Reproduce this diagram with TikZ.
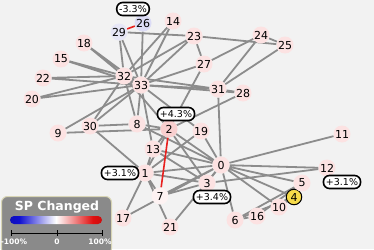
\documentclass[tikz,border=0pt]{standalone}
\usepackage{fontspec}
\setmainfont{DejaVu Sans}
\usepackage{tikz}
\usetikzlibrary{arrows.meta, positioning, calc}
\definecolor{canvas}{HTML}{F2F2F2}
\definecolor{wire}{HTML}{8C8C8C}
\definecolor{hot}{HTML}{E8201E}
\definecolor{pinkish}{HTML}{FCE2E2}
\definecolor{pinkdeep}{HTML}{F8CFCF}
\definecolor{pinkpale}{HTML}{FDF2F2}
\definecolor{lilac}{HTML}{DCDCF6}
\definecolor{lilac2}{HTML}{E6E6F6}
\definecolor{gold}{HTML}{F6DB4A}
\definecolor{legendgray}{HTML}{8A8A8A}
\definecolor{legendrim}{HTML}{D8D5B5}
\definecolor{barlo}{HTML}{00005A}
\definecolor{barmidlo}{HTML}{1010D0}
\definecolor{barmidhi}{HTML}{E01010}
\definecolor{barhi}{HTML}{6E0008}
\pgfdeclarehorizontalshading{spbar}{100bp}{color(0bp)=(barlo); color(30bp)=(barmidlo); color(50bp)=(white); color(70bp)=(barmidhi); color(100bp)=(barhi)}
\pgfdeclarelayer{bg}
\pgfdeclarelayer{edges}
\pgfsetlayers{bg,edges,main}

\begin{document}
\begin{tikzpicture}[
  x=1pt, y=-1pt,
  vert/.style={circle, fill=pinkish, minimum size=17pt, inner sep=0pt,
               font=\fontsize{11}{13}\selectfont},
  vertsel/.style={vert, fill=gold, draw=black, line width=1pt, minimum size=15.5pt},
  pill/.style={rectangle, rounded corners=6pt, draw=black, line width=1.6pt,
               fill=white, minimum height=13pt, inner xsep=2.5pt, inner ysep=1pt,
               font=\fontsize{9.5}{11}\selectfont},
  edge/.style={draw=wire, line width=1.8pt},
  edgehot/.style={draw=hot, line width=1.6pt}
]
  \begin{pgfonlayer}{bg}
    \fill[canvas] (0,0) rectangle (374,249);
  \end{pgfonlayer}
  \useasboundingbox (0,0) rectangle (374,249);

  % vertices
  \node[vert] (v0) at (221,165) {0};
  \node[vert] (v1) at (145,173) {1};
  \node[vert, fill=pinkdeep] (v2) at (169,129) {2};
  \node[vert] (v3) at (207,183) {3};
  \node[vertsel] (v4) at (294,197) {4};
  \node[vert] (v5) at (302,183) {5};
  \node[vert] (v6) at (235,220) {6};
  \node[vert, fill=pinkpale] (v7) at (160,196) {7};
  \node[vert] (v8) at (137,124) {8};
  \node[vert] (v9) at (58,133) {9};
  \node[vert] (v10) at (279,207) {10};
  \node[vert] (v11) at (342,134) {11};
  \node[vert] (v12) at (327,168) {12};
  \node[vert] (v13) at (153,149) {13};
  \node[vert] (v14) at (173,21) {14};
  \node[vert] (v15) at (61,59) {15};
  \node[vert] (v16) at (257,216) {16};
  \node[vert] (v17) at (123,218) {17};
  \node[vert] (v18) at (84,43) {18};
  \node[vert] (v19) at (201,131) {19};
  \node[vert] (v20) at (32,99) {20};
  \node[vert] (v21) at (170,227) {21};
  \node[vert] (v22) at (43,78) {22};
  \node[vert] (v23) at (194,36) {23};
  \node[vert] (v24) at (261,35) {24};
  \node[vert] (v25) at (285,45) {25};
  \node[vert, fill=lilac] (v26) at (143,23) {26};
  \node[vert] (v27) at (204,64) {27};
  \node[vert] (v28) at (243,93) {28};
  \node[vert, fill=lilac2] (v29) at (119,32) {29};
  \node[vert] (v30) at (90,126) {30};
  \node[vert] (v31) at (218,89) {31};
  \node[vert] (v32) at (124,76) {32};
  \node[vert] (v33) at (141,85) {33};

  % change labels
  \node[pill] (l26) at (133,9) {-3.3\%};
  \node[pill] (l2) at (176,114) {+4.3\%};
  \node[pill] (l1) at (120,173) {+3.1\%};
  \node[pill] (l3) at (212,197) {+3.4\%};
  \node[pill] (l12) at (342,182) {+3.1\%};

  % edges
  \begin{pgfonlayer}{edges}
    \draw[edge] (v0) -- (v1) (v0) -- (v2) (v0) -- (v3) (v0) -- (v4) (v0) -- (v5)
      (v0) -- (v6) (v0) -- (v7) (v0) -- (v8) (v0) -- (v10) (v0) -- (v11)
      (v0) -- (v12) (v0) -- (v13) (v0) -- (v17) (v0) -- (v19) (v0) -- (v21)
      (v0) -- (v31);
    \draw[edge] (v1) -- (v2) (v1) -- (v3) (v1) -- (v7) (v1) -- (v13) (v1) -- (v17)
      (v1) -- (v19) (v1) -- (v21) (v1) -- (v30);
    \draw[edge] (v2) -- (v3) (v2) -- (v8) (v2) -- (v9) (v2) -- (v13)
      (v2) -- (v27) (v2) -- (v28) (v2) -- (v32);
    \draw[edge] (v3) -- (v7) (v3) -- (v12) (v3) -- (v13);
    \draw[edge] (v4) -- (v6) (v4) -- (v10);
    \draw[edge] (v5) -- (v6) (v5) -- (v10) (v5) -- (v16) (v6) -- (v16);
    \draw[edge] (v8) -- (v30) (v8) -- (v32) (v8) -- (v33);
    \draw[edge] (v9) -- (v33) (v13) -- (v33);
    \draw[edge] (v14) -- (v32) (v14) -- (v33) (v15) -- (v32) (v15) -- (v33);
    \draw[edge] (v18) -- (v32) (v18) -- (v33) (v19) -- (v33);
    \draw[edge] (v20) -- (v32) (v20) -- (v33) (v22) -- (v32) (v22) -- (v33);
    \draw[edge] (v23) -- (v25) (v23) -- (v27) (v23) -- (v29) (v23) -- (v32)
      (v23) -- (v33);
    \draw[edge] (v24) -- (v25) (v24) -- (v27) (v24) -- (v31) (v25) -- (v31);
    \draw[edge] (v26) -- (v33) (v27) -- (v33) (v28) -- (v31) (v28) -- (v33);
    \draw[edge] (v29) -- (v32) (v29) -- (v33) (v30) -- (v32) (v30) -- (v33);
    \draw[edge] (v31) -- (v32) (v31) -- (v33) (v32) -- (v33);
    \draw[edgehot] (v26) -- (v29);
    \draw[edgehot] (v2) -- (v7);
  \end{pgfonlayer}

  % legend
  \node[rectangle, rounded corners=6pt, draw=legendrim, line width=1pt,
        fill=legendgray, minimum width=110pt, minimum height=58pt,
        anchor=north west, inner sep=0pt] (key) at (1,196) {};
  \node[font=\fontsize{12.5}{14}\selectfont\bfseries, text=white] (keytitle)
    at (57,207.5) {SP Changed};
  \shade[shading=spbar, rounded corners=4pt] (10,216) rectangle (102,224);
  \draw[black, line width=0.8pt] (11,233) -- (102,233)
    (11,230) -- (11,236) (57,230) -- (57,236) (102,230) -- (102,236);
  \node[font=\fontsize{7.5}{9}\selectfont\bfseries, text=white] (kmin) at (14,242) {-100\%};
  \node[font=\fontsize{7.5}{9}\selectfont\bfseries, text=white] (kmid) at (57,242) {0};
  \node[font=\fontsize{7.5}{9}\selectfont\bfseries, text=white] (kmax) at (100,242) {100\%};
\end{tikzpicture}
\end{document}
